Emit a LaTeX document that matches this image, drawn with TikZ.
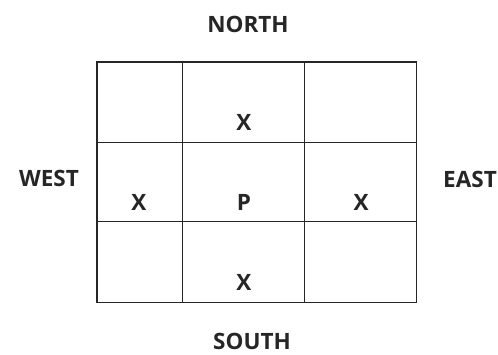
\documentclass[tikz,border=0pt]{standalone}
\usepackage{fontspec}
\setmainfont{Open Sans}
\begin{document}
\begin{tikzpicture}[x=1pt,y=-1pt,
  lbl/.style={font=\bfseries\fontsize{22.5}{26}\selectfont, text=black!85, inner sep=0pt, anchor=base},
  gridline/.style={draw=black!85, line width=1.3pt}]
\useasboundingbox (0,0) rectangle (498,354);
\fill[white] (0,0) rectangle (498,354);
\coordinate (tl) at (97,62);
\coordinate (br) at (416.5,302.5);
\draw[gridline] (tl) rectangle (br);
\draw[gridline] (182.7,62) -- (182.7,302.5);
\draw[gridline] (304.3,62) -- (304.3,302.5);
\draw[gridline] (97,142.3) -- (416.5,142.3);
\draw[gridline] (97,221.7) -- (416.5,221.7);
\node[lbl] (n) at (248,32) {NORTH};
\node[lbl] (s) at (252,349) {SOUTH};
\node[lbl] (w) at (49,186) {WEST};
\node[lbl] (e) at (470,187) {EAST};
\node[lbl] (x1) at (244,130) {X};
\node[lbl] (x2) at (139,210) {X};
\node[lbl] (p) at (244,210) {P};
\node[lbl] (x3) at (361,210) {X};
\node[lbl] (x4) at (244,290) {X};
\end{tikzpicture}
\end{document}
